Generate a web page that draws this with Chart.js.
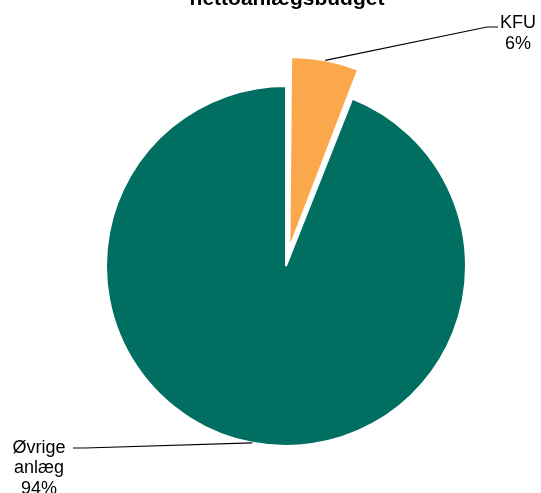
<!DOCTYPE html>
<html>
<head>
<meta charset="utf-8">
<script src="https://cdn.jsdelivr.net/npm/chart.js@4"></script>
<style>
  body { margin: 0; background: #fff; }
</style>
</head>
<body>
<canvas id="pieChart" width="541" height="493"></canvas>
<script>
const categories = ["KFU", "Øvrige anlæg"];
const labelLines = [["KFU"], ["Øvrige", "anlæg"]];
const values = [6, 94];
const titleText = "nettoanlægsbudget";

const colors = ["#FAA84B", "#006F62"];

// where each label sits and where its leader line bends (style, not data)
const labelSpots = [
  { x: 518, y: 28, bend: [487, 27], end: [498, 27] },
  { x: 39, y: 452.5, bend: [85, 448], end: [73, 448] },
];
const lineGap = 20.5;

// chart.js moves an arc by offset/4 * (1 + fix), same as Arc.draw
function arcShift(arc) {
  const off = (arc.options.offset || 0) / 4;
  const circ = arc.endAngle - arc.startAngle;
  const fix = 1 - Math.sin(Math.min(Math.PI, circ || 0));
  return off + off * fix;
}

const labelPlugin = {
  id: "pieLabels",
  afterDraw(chart) {
    const ctx = chart.ctx;
    const meta = chart.getDatasetMeta(0);
    const total = values.reduce((a, b) => a + b, 0);

    ctx.save();
    // title, cut off at the top like the original
    ctx.fillStyle = "#000";
    ctx.font = "bold 21px 'Liberation Sans', Arial, sans-serif";
    ctx.textAlign = "center";
    ctx.textBaseline = "alphabetic";
    ctx.fillText(titleText, 287, 5);

    meta.data.forEach((arc, i) => {
      const mid = (arc.startAngle + arc.endAngle) / 2;
      const r = arc.outerRadius + arcShift(arc);
      const sx = arc.x + Math.cos(mid) * r;
      const sy = arc.y + Math.sin(mid) * r;
      const spot = labelSpots[i];

      ctx.strokeStyle = "#000";
      ctx.lineWidth = 1.2;
      ctx.beginPath();
      ctx.moveTo(sx, sy);
      ctx.lineTo(spot.bend[0], spot.bend[1]);
      ctx.lineTo(spot.end[0], spot.end[1]);
      ctx.stroke();

      const pct = Math.round(values[i] / total * 100) + "%";
      const lines = labelLines[i].concat([pct]);
      ctx.font = "18px 'Liberation Sans', Arial, sans-serif";
      ctx.textAlign = "center";
      ctx.textBaseline = "alphabetic";
      lines.forEach((t, k) => {
        ctx.fillText(t, spot.x, spot.y + k * lineGap);
      });
    });
    ctx.restore();
  },
};

new Chart(document.getElementById("pieChart"), {
  type: "pie",
  data: {
    labels: categories,
    datasets: [
      {
        data: values,
        backgroundColor: colors,
        borderColor: "#fff",
        borderWidth: 2,
        offset: [72, 0],
      },
    ],
  },
  options: {
    responsive: false,
    devicePixelRatio: 1,
    animation: false,
    radius: 180,
    layout: {
      padding: { left: 31, top: 39, right: 0, bottom: 0 },
    },
    plugins: {
      legend: { display: false },
      tooltip: { enabled: false },
      title: { display: false },
    },
  },
  plugins: [labelPlugin],
});
</script>
</body>
</html>
